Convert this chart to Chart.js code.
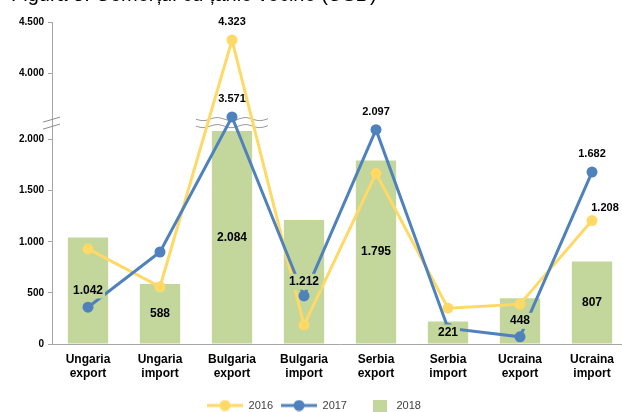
<!DOCTYPE html>
<html>
<head>
<meta charset="utf-8">
<script src="https://cdn.jsdelivr.net/npm/chart.js@4/dist/chart.umd.min.js"></script>
<style>
  html, body { margin: 0; padding: 0; background: #fff; overflow: hidden; }
  canvas { display: block; }
</style>
</head>
<body>
<canvas id="chart" width="628" height="412"></canvas>
<script>
// date
const categories = [
    ['Ungaria', 'export'], ['Ungaria', 'import'],
    ['Bulgaria', 'export'], ['Bulgaria', 'import'],
    ['Serbia', 'export'], ['Serbia', 'import'],
    ['Ucraina', 'export'], ['Ucraina', 'import']
];
const values2016 = [930, 560, 4323, 185, 1670, 350, 390, 1208];
const values2017 = [360, 900, 3571, 470, 2097, 155, 70, 1682];
const values2018 = [1042, 588, 2084, 1212, 1795, 221, 448, 807];
const yTicks = [0, 500, 1000, 1500, 2000, 4000, 4500];
const labeled2016 = [2, 7];
const labeled2017 = [2, 4, 7];

const YELLOW = '#FFD966';
const BLUE = '#4F81BD';
const GREEN = '#C3D69B';
const AXIS = '#a6a6a6';
const FONT = '"Liberation Sans", Arial, sans-serif';

// axa Y intrerupta intre 2200 si 3550
const BREAK_LOW = 2200;
const BREAK_HIGH = 3550;

function squash(v) {
    if (v === null || v === undefined) return v;
    return v > BREAK_LOW ? Math.max(BREAK_LOW, v - (BREAK_HIGH - BREAK_LOW)) : v;
}

function unsquash(v) {
    return v > BREAK_LOW ? v + (BREAK_HIGH - BREAK_LOW) : v;
}

class BrokenLinearScale extends Chart.LinearScale {
    getPixelForValue(value) {
        return super.getPixelForValue(squash(value));
    }
    getValueForPixel(pixel) {
        return unsquash(super.getValueForPixel(pixel));
    }
}
BrokenLinearScale.id = 'brokenLinear';
BrokenLinearScale.defaults = Chart.LinearScale.defaults;
Chart.register(BrokenLinearScale);

function fmt(v) {
    return String(v).replace(/\B(?=(\d{3})+(?!\d))/g, '.');
}

function legendIcon(color, kind) {
    let c = document.createElement('canvas');
    c.width = 36;
    c.height = 12;
    let g = c.getContext('2d');
    g.fillStyle = color;
    g.strokeStyle = color;
    if (kind === 'line') {
        g.lineWidth = 3;
        g.beginPath();
        g.moveTo(0, 6);
        g.lineTo(36, 6);
        g.stroke();
        g.beginPath();
        g.arc(18, 6, 5.5, 0, Math.PI * 2);
        g.fill();
    } else {
        g.fillRect(18, 0, 14, 12);
    }
    return c;
}

const legendIcons = [legendIcon(YELLOW, 'line'), legendIcon(BLUE, 'line'), legendIcon(GREEN, 'box')];

const titlePlugin = {
    id: 'cutTitle',
    beforeDraw(chart) {
        let ctx = chart.ctx;
        ctx.save();
        ctx.font = '20px ' + FONT;
        ctx.fillStyle = '#000';
        ctx.textBaseline = 'alphabetic';
        ctx.textAlign = 'left';
        ctx.fillText('Figura 5. Comerțul cu țările vecine (USD)', 11, 1);
        ctx.restore();
    }
};

const breakPlugin = {
    id: 'axisBreak',
    beforeDatasetsDraw(chart) {
        let ctx = chart.ctx;
        let y = chart.scales.y.getPixelForValue(BREAK_LOW);
        let xs = chart.scales.x;
        let left = chart.chartArea.left;
        let cx = xs.getPixelForValue(2);
        let half = (xs.getPixelForValue(1) - xs.getPixelForValue(0)) / 2;
        ctx.save();
        ctx.strokeStyle = '#9a9a9a';
        ctx.lineWidth = 1;
        // valuri pe categoria Bulgaria export
        [0, 7].forEach(function (dy) {
            ctx.beginPath();
            for (let x = cx - half; x <= cx + half; x += 1) {
                let yy = y + dy + Math.sin((x - cx + half) / 4.5) * 1.5;
                if (x === cx - half) ctx.moveTo(x, yy); else ctx.lineTo(x, yy);
            }
            ctx.stroke();
        });
        // semnul // pe axa Y
        ctx.strokeStyle = '#8c8c8c';
        [0, 7].forEach(function (dy) {
            ctx.beginPath();
            ctx.moveTo(left - 9, y + dy + 3);
            ctx.lineTo(left + 8, y + dy - 2);
            ctx.stroke();
        });
        ctx.restore();
    }
};

const valueLabels = {
    id: 'valueLabels',
    afterDatasetsDraw(chart) {
        let ctx = chart.ctx;
        ctx.save();
        ctx.textAlign = 'center';
        ctx.textBaseline = 'middle';

        // etichete in coloane, cu fundal verde
        ctx.font = 'bold 12px ' + FONT;
        chart.getDatasetMeta(2).data.forEach(function (bar, i) {
            let text = fmt(values2018[i]);
            let y = (bar.y + bar.base) / 2;
            let w = ctx.measureText(text).width + 4;
            ctx.fillStyle = GREEN;
            ctx.fillRect(bar.x - w / 2, y - 8, w, 16);
            ctx.fillStyle = '#000';
            ctx.fillText(text, bar.x, y);
        });

        // etichete pe linii
        ctx.font = 'bold 11px ' + FONT;
        ctx.fillStyle = '#000';
        [[0, values2016, labeled2016], [1, values2017, labeled2017]].forEach(function (s) {
            let meta = chart.getDatasetMeta(s[0]);
            s[2].forEach(function (i) {
                let pt = meta.data[i];
                let dx = 0, dy = -18;
                if (s[0] === 0 && i === 7) { dx = 13; dy = -13; }
                ctx.fillText(fmt(s[1][i]), pt.x + dx, pt.y + dy);
            });
        });
        ctx.restore();
    }
};

let chartCanvas = document.getElementById('chart');

let chart = new Chart(chartCanvas, {
    type: 'bar',
    data: {
        labels: categories,
        datasets: [
            {
                type: 'line',
                label: '2016',
                data: values2016,
                borderColor: YELLOW,
                backgroundColor: YELLOW,
                borderWidth: 3,
                pointRadius: 5.5,
                pointBorderWidth: 0,
                pointBackgroundColor: YELLOW,
                tension: 0,
                order: 2
            },
            {
                type: 'line',
                label: '2017',
                data: values2017,
                borderColor: BLUE,
                backgroundColor: BLUE,
                borderWidth: 3,
                pointRadius: 5.5,
                pointBorderWidth: 0,
                pointBackgroundColor: BLUE,
                tension: 0,
                order: 1
            },
            {
                type: 'bar',
                label: '2018',
                data: values2018,
                backgroundColor: GREEN,
                barPercentage: 0.56,
                categoryPercentage: 1.0,
                order: 3
            }
        ]
    },
    options: {
        responsive: false,
        animation: false,
        layout: {
            autoPadding: false,
            padding: { left: 0, top: 22, right: 0, bottom: -9 }
        },
        plugins: {
            title: { display: false },
            tooltip: { enabled: false },
            legend: {
                position: 'bottom',
                labels: {
                    usePointStyle: true,
                    pointStyleWidth: 36,
                    boxHeight: 11,
                    padding: 8,
                    color: '#404040',
                    font: { family: FONT, size: 11 },
                    generateLabels: function (c) {
                        return c.data.datasets.map(function (ds, i) {
                            return {
                                text: ds.label,
                                pointStyle: legendIcons[i],
                                fillStyle: 'transparent',
                                strokeStyle: 'transparent',
                                lineWidth: 0,
                                hidden: false,
                                datasetIndex: i,
                                fontColor: '#404040'
                            };
                        });
                    }
                }
            }
        },
        scales: {
            x: {
                grid: { display: false },
                border: { display: true, color: AXIS, width: 1 },
                afterFit: function (axis) { axis.height = 48; },
                ticks: {
                    color: '#000',
                    maxRotation: 0,
                    autoSkip: false,
                    padding: 0,
                    font: { family: FONT, size: 12, weight: 'bold', lineHeight: 1.2 }
                }
            },
            y: {
                type: 'brokenLinear',
                min: 0,
                max: squash(4500),
                afterFit: function (axis) { axis.width = 52; },
                afterBuildTicks: function (axis) {
                    axis.ticks = yTicks.map(function (v) { return { value: v }; });
                },
                grid: { drawOnChartArea: false, drawTicks: true, tickLength: 4, color: AXIS },
                border: { display: true, color: AXIS, width: 1 },
                ticks: {
                    color: '#000',
                    padding: 4,
                    font: { family: FONT, size: 10, weight: 'bold' },
                    callback: function (v) { return fmt(v); }
                }
            }
        }
    },
    plugins: [titlePlugin, breakPlugin, valueLabels]
});
</script>
</body>
</html>
